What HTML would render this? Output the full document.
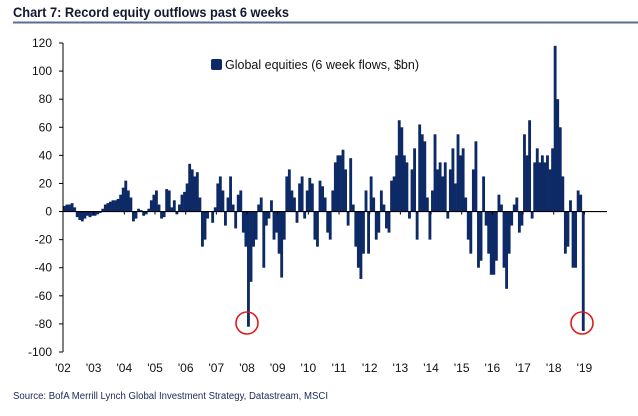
<!DOCTYPE html>
<html><head><meta charset="utf-8">
<style>
body{margin:0;background:#fff;font-family:"Liberation Sans",Arial,sans-serif;}
#wrap{position:relative;width:638px;height:416px;overflow:hidden;}
</style></head>
<body>
<div id="wrap">
<svg id="chart" width="638" height="416" xmlns="http://www.w3.org/2000/svg">
  <text x="13" y="17" font-family="Liberation Sans, Arial, sans-serif" font-weight="bold" font-size="14" fill="#14182e" textLength="276" lengthAdjust="spacingAndGlyphs">Chart 7: Record equity outflows past 6 weeks</text>
  <line x1="13" y1="22.5" x2="638" y2="22.5" stroke="#5a6e90" stroke-width="2"/>
  <g id="bars"></g>
  <g id="axes"></g>
  <rect x="211" y="59" width="11" height="11" rx="2" fill="#0d2a66"/>
  <text x="225" y="69" font-size="12.5" fill="#111" textLength="194">Global equities (6 week flows, $bn)</text>
  <circle cx="247" cy="323" r="11" fill="none" stroke="#e01a1a" stroke-width="1.6"/>
  <circle cx="582" cy="323" r="11" fill="none" stroke="#e01a1a" stroke-width="1.6"/>
  <text x="13" y="399" font-size="10" fill="#1a2a55" textLength="315" lengthAdjust="spacingAndGlyphs">Source:  BofA Merrill Lynch Global Investment Strategy, Datastream, MSCI</text>
</svg>
</div>
<script>
const years = ["'02","'03","'04","'05","'06","'07","'08","'09","'10","'11","'12","'13","'14","'15","'16","'17","'18","'19"];
const yTicks = [120,100,80,60,40,20,0,-20,-40,-60,-80,-100];
const flows = [
 4,5,5,6,3,-4,-6,-7,-5,-3,-4,-3,
 -3,-2,-1,2,5,6,7,8,8,9,12,17,
 22,15,10,-7,-5,2,1,-3,-2,2,8,12,
 15,5,-5,-4,16,15,3,8,-2,5,12,14,
 20,34,30,25,28,10,-25,-20,-5,0,-8,3,
 20,25,15,-10,10,25,5,-12,12,15,-15,-25,
 -82,-50,-25,-20,5,10,-40,-10,-5,8,-20,-15,
 -30,-47,-20,25,30,15,10,-8,20,25,-5,15,
 24,20,-20,-25,22,18,10,-15,-20,15,35,40,
 40,44,30,-10,38,5,-25,-40,-48,-30,15,-30,
 25,10,-20,-15,15,5,-12,-15,22,25,40,65,
 60,40,35,-5,30,45,-20,62,55,50,10,-20,
 15,55,30,35,25,35,-5,30,45,20,55,40,
 45,10,-20,-30,30,50,-40,-35,25,-10,-30,-45,
 -45,-35,12,5,-40,-55,-30,-10,5,10,-15,-10,
 55,40,65,-5,35,45,35,40,35,40,30,45,
 118,80,60,25,-30,-25,8,-40,-40,15,12,-85
];
const NS="http://www.w3.org/2000/svg";
const x0=63, yearW=30.67, yTop=43, yBot=352, vMax=120, vMin=-100;
function xScale(i){return x0 + i*yearW/12;}
function yScale(v){return yTop + (vMax-v)*(yBot-yTop)/(vMax-vMin);}
const bars=document.getElementById('bars');
const bw=yearW/12;
flows.forEach((v,i)=>{
  const r=document.createElementNS(NS,'rect');
  const y0=yScale(0), y1=yScale(v);
  r.setAttribute('x',xScale(i));
  r.setAttribute('y',Math.min(y0,y1));
  r.setAttribute('width',bw+0.3);
  r.setAttribute('height',Math.max(0.5,Math.abs(y1-y0)));
  r.setAttribute('fill','#0d2a66');
  
  
  bars.appendChild(r);
});
const axes=document.getElementById('axes');
function line(x1,y1,x2,y2,name,w){
  const l=document.createElementNS(NS,'line');
  l.setAttribute('x1',x1);l.setAttribute('y1',y1);l.setAttribute('x2',x2);l.setAttribute('y2',y2);
  l.setAttribute('stroke','#000');l.setAttribute('stroke-width',w||1);
  
  
  axes.appendChild(l);
}
line(x0,yTop,x0,yBot,'y-axis-line');
line(x0,yScale(0),607,yScale(0),'x-axis-zero-line',1.2);
yTicks.forEach(v=>{
  const y=yScale(v);
  line(x0-4,y,x0,y,'y-tick');
  const t=document.createElementNS(NS,'text');
  t.setAttribute('x',52);t.setAttribute('y',y+4);
  t.setAttribute('text-anchor','end');t.setAttribute('font-size','12');t.setAttribute('fill','#111');
  t.textContent=v;
  
  
  axes.appendChild(t);
});
years.forEach((yl,i)=>{
  const x=x0+i*yearW;
  line(x,yScale(0),x,yScale(0)+3,'x-tick');
  const t=document.createElementNS(NS,'text');
  t.setAttribute('x',x);t.setAttribute('y',372);
  t.setAttribute('text-anchor','middle');t.setAttribute('font-size','12');t.setAttribute('fill','#111');
  t.textContent=yl;
  
  
  axes.appendChild(t);
});
</script>
</body></html>
